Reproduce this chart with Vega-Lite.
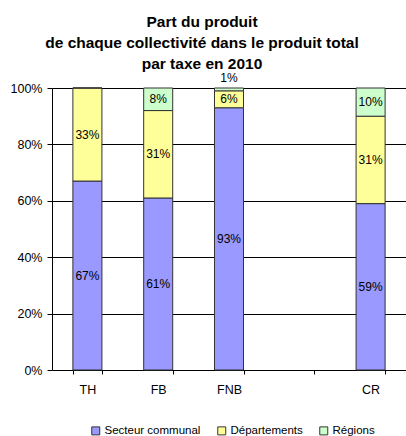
{
  "$schema": "https://vega.github.io/schema/vega-lite/v6.json",
  "autosize": {"type": "none"},
  "width": 354,
  "height": 282,
  "padding": {"left": 52, "top": 88, "right": 0, "bottom": 66},
  "background": "white",
  "config": {
    "font": "Liberation Sans",
    "view": {"stroke": null},
    "axis": {"labelFont": "Liberation Sans", "labelColor": "black", "labelFontSize": 12.5}
  },
  "title": {
    "text": ["Part du produit", "de chaque collectivité dans le produit total", "par taxe en 2010"],
    "font": "Liberation Sans",
    "fontSize": 15.5,
    "fontWeight": "bold",
    "color": "black",
    "lineHeight": 21,
    "anchor": "middle",
    "dx": -27,
    "offset": 0
  },
  "data": {
    "values": [
      {"taxe": "TH", "groupe": "Secteur communal", "rang": 1, "part": 67},
      {"taxe": "TH", "groupe": "Départements", "rang": 2, "part": 33},
      {"taxe": "TH", "groupe": "Régions", "rang": 3, "part": 0},
      {"taxe": "FB", "groupe": "Secteur communal", "rang": 1, "part": 61},
      {"taxe": "FB", "groupe": "Départements", "rang": 2, "part": 31},
      {"taxe": "FB", "groupe": "Régions", "rang": 3, "part": 8},
      {"taxe": "FNB", "groupe": "Secteur communal", "rang": 1, "part": 93},
      {"taxe": "FNB", "groupe": "Départements", "rang": 2, "part": 6},
      {"taxe": "FNB", "groupe": "Régions", "rang": 3, "part": 1},
      {"taxe": "CR", "groupe": "Secteur communal", "rang": 1, "part": 59},
      {"taxe": "CR", "groupe": "Départements", "rang": 2, "part": 31},
      {"taxe": "CR", "groupe": "Régions", "rang": 3, "part": 10}
    ]
  },
  "transform": [
    {"stack": "part", "groupby": ["taxe"], "sort": [{"field": "rang"}], "as": ["y0", "y1"]},
    {"calculate": "(datum.y0 + datum.y1) / 2", "as": "ymid"},
    {"calculate": "datum.part + '%'", "as": "etiquette"}
  ],
  "encoding": {
    "x": {
      "field": "taxe",
      "type": "nominal",
      "scale": {"domain": ["TH", "FB", "FNB", " ", "CR"], "paddingInner": 0.59, "paddingOuter": 0.295},
      "axis": {
        "title": null,
        "labelAngle": 0,
        "tickBand": "extent",
        "tickColor": "black",
        "tickSize": 4,
        "domainColor": "black",
        "labelPadding": 9
      }
    }
  },
  "layer": [
    {
      "mark": {"type": "bar", "stroke": "#333333", "strokeWidth": 1},
      "encoding": {
        "y": {
          "field": "y1",
          "type": "quantitative",
          "scale": {"domain": [0, 100]},
          "axis": {
            "title": null,
            "values": [0, 20, 40, 60, 80, 100],
            "labelExpr": "datum.value + '%'",
            "grid": true,
            "gridColor": "black",
            "gridOpacity": 1,
            "domainColor": "black",
            "tickColor": "black",
            "tickSize": 5,
            "labelPadding": 5
          }
        },
        "y2": {"field": "y0"},
        "color": {
          "field": "groupe",
          "type": "nominal",
          "scale": {
            "domain": ["Secteur communal", "Départements", "Régions"],
            "range": ["#9999FF", "#FFFF99", "#CCFFCC"]
          },
          "legend": {
            "title": null,
            "orient": "none",
            "direction": "horizontal",
            "legendX": 38,
            "legendY": 337,
            "symbolType": "square",
            "symbolSize": 64,
            "symbolStrokeColor": "#333333",
            "symbolStrokeWidth": 1,
            "labelFont": "Liberation Sans",
            "labelFontSize": 11.5,
            "labelColor": "black",
            "columnPadding": 14,
            "labelOffset": 3
          }
        }
      }
    },
    {
      "transform": [{"filter": "datum.part >= 3"}],
      "mark": {"type": "text", "font": "Liberation Sans", "fontSize": 12, "color": "black"},
      "encoding": {
        "y": {"field": "ymid", "type": "quantitative"},
        "text": {"field": "etiquette", "type": "nominal"}
      }
    },
    {
      "transform": [{"filter": "datum.part > 0 && datum.part < 3"}],
      "mark": {"type": "text", "font": "Liberation Sans", "fontSize": 12, "color": "black", "dy": -10},
      "encoding": {
        "y": {"field": "y1", "type": "quantitative"},
        "text": {"field": "etiquette", "type": "nominal"}
      }
    }
  ]
}
